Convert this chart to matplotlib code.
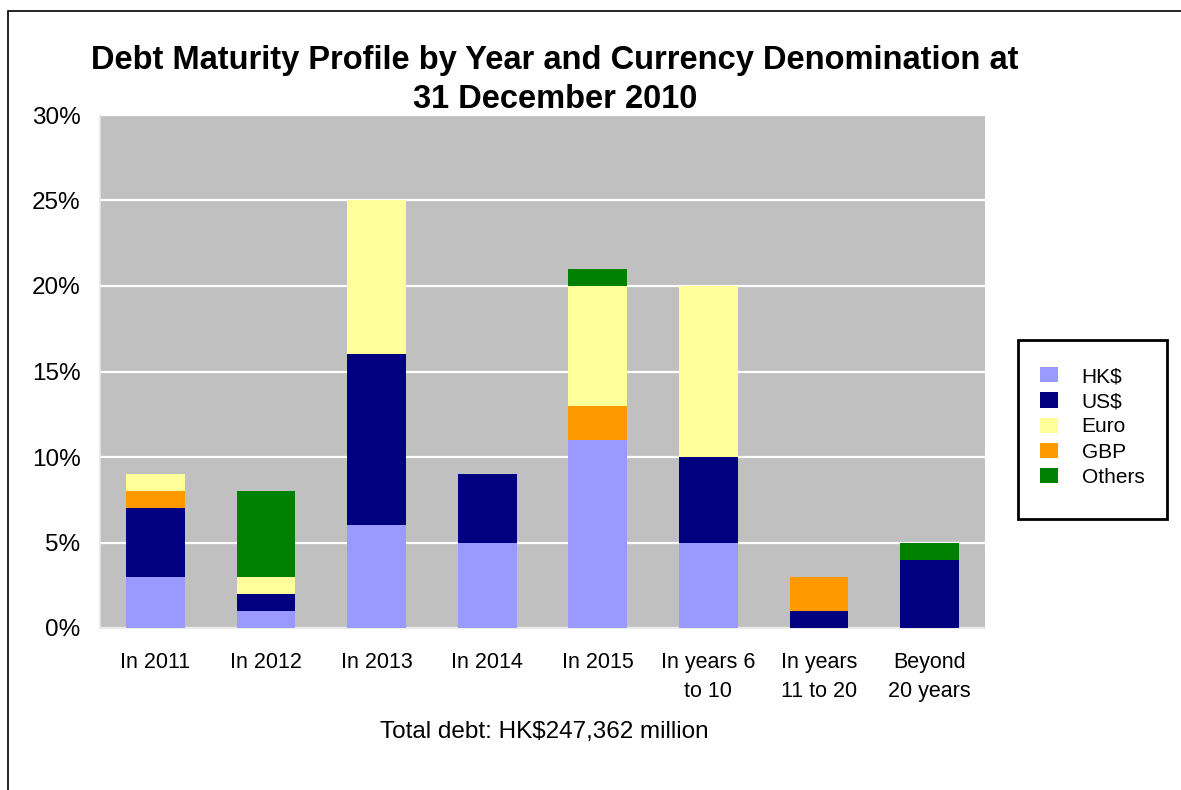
import matplotlib
matplotlib.use("Agg")
import matplotlib.pyplot as plt
from matplotlib.patches import Rectangle
import numpy as np

plt.rcParams['font.family'] = ['Liberation Sans', 'DejaVu Sans']

categories = ["In 2011", "In 2012", "In 2013", "In 2014", "In 2015",
              "In years 6\nto 10", "In years\n11 to 20", "Beyond\n20 years"]
hkd = [3, 1, 6, 5, 11, 5, 0, 0]
usd = [4, 1, 10, 4, 0, 5, 1, 4]
euro = [1, 1, 9, 0, 7, 10, 0, 0]
gbp = [1, 0, 0, 0, 2, 0, 2, 0]
others = [0, 5, 0, 0, 1, 0, 0, 1]
yticks = [0, 5, 10, 15, 20, 25, 30]

# stacking order (bottom to top) and legend order differ
stack = [("HK$", hkd, "#9999FF"), ("US$", usd, "#000080"),
         ("GBP", gbp, "#FF9900"), ("Euro", euro, "#FFFF99"),
         ("Others", others, "#008000")]
legend_order = ["HK$", "US$", "Euro", "GBP", "Others"]

fig = plt.figure(figsize=(11.81, 7.90), dpi=100)
fig.patch.set_facecolor("white")

# outer chart border
fig.patches.append(Rectangle((8/1181, -0.1), 1.2, 1 - 11/790 + 0.1,
                             transform=fig.transFigure, fill=False,
                             edgecolor="black", linewidth=1.2))

ax = fig.add_axes([100/1181, 1 - 628/790, 885/1181, 513/790])
ax.set_facecolor("#C0C0C0")

x = np.arange(len(categories))
bottom = np.zeros(len(categories))
handles = {}
for name, vals, c in stack:
    v = np.array(vals, dtype=float)
    h = ax.bar(x, v, bottom=bottom, width=0.53, color=c, label=name, zorder=3)
    handles[name] = h
    bottom += v

ax.set_xlim(-0.5, len(categories) - 0.5)
ax.set_ylim(0, 30)
ax.set_yticks(yticks)
ax.set_yticklabels([f"{t}%" for t in yticks], fontsize=17.5)
ax.set_xticks(x)
ax.set_xticklabels(categories, fontsize=15.5, linespacing=1.55)
ax.tick_params(axis='both', length=0)
ax.tick_params(axis='x', pad=17)
ax.tick_params(axis='y', pad=14)
ax.yaxis.grid(True, color="white", linewidth=1.6, zorder=1)
ax.set_axisbelow(True)
for s in ["top", "right"]:
    ax.spines[s].set_visible(False)
for s in ["left", "bottom"]:
    ax.spines[s].set_color("#E8E8E8")
    ax.spines[s].set_linewidth(1.2)

fig.text(555/1181, 1 - 60/790, "Debt Maturity Profile by Year and Currency Denomination at",
         ha="center", va="center", fontsize=23.5, fontweight="bold")
fig.text(555/1181, 1 - 100/790, "31 December 2010",
         ha="center", va="center", fontsize=23.5, fontweight="bold")
fig.text(544/1181, 1 - 732/790, "Total debt: HK$247,362 million",
         ha="center", va="center", fontsize=17.5)

# legend frame
fig.patches.append(Rectangle((1018/1181, 1 - 519/790), 149/1181, 179/790,
                             transform=fig.transFigure, fill=False,
                             edgecolor="black", linewidth=2.0))
leg = fig.legend([handles[n] for n in legend_order], legend_order,
                 loc="center", bbox_to_anchor=(1092/1181, 1 - 427/790),
                 frameon=False, fontsize=15,
                 handlelength=0.87, handleheight=0.75, handletextpad=1.15,
                 borderpad=0, labelspacing=0.3, borderaxespad=0)

fig.savefig("out.png", dpi=100)
